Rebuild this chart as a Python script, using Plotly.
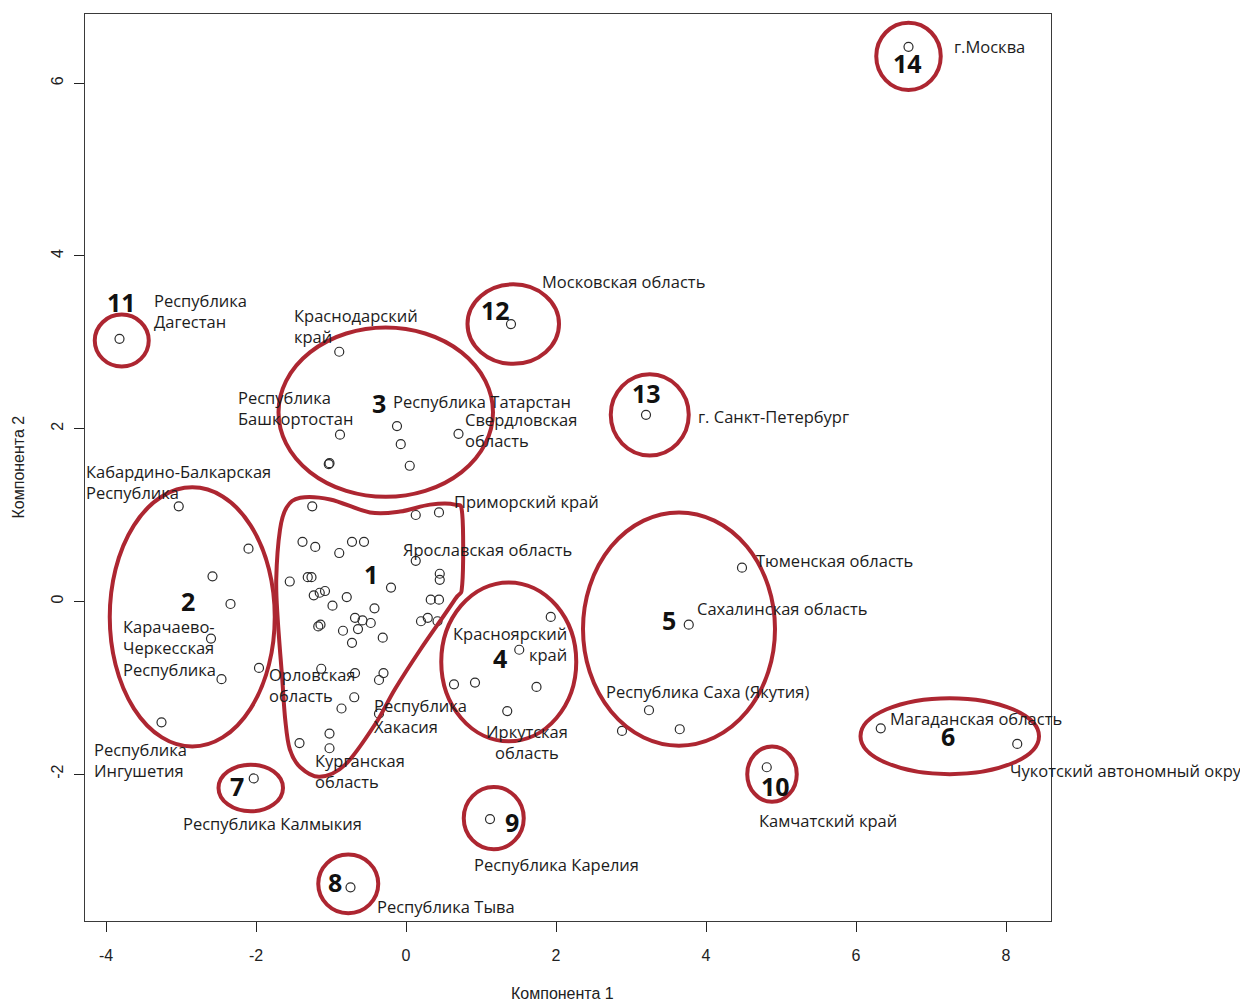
import plotly.graph_objects as go

# --- Regions with a text label: name (line breaks as drawn), component 1, component 2
region_names = [
    "г.Москва", "Московская область", "Республика\nДагестан", "г. Санкт-Петербург",
    "Краснодарский\nкрай", "Республика\nБашкортостан", "Республика Татарстан",
    "Свердловская\nобласть", "Кабардино-Балкарская\nРеспублика",
    "Карачаево-\nЧеркесская\nРеспублика", "Республика\nИнгушетия", "Орловская\nобласть",
    "Приморский край", "Ярославская область", "Республика\nХакасия", "Курганская\nобласть",
    "Красноярский\nкрай", "Иркутская\nобласть", "Тюменская область", "Сахалинская область",
    "Республика Саха (Якутия)", "Магаданская область", "Чукотский автономный округ",
    "Камчатский край", "Республика Калмыкия", "Республика Карелия", "Республика Тыва",
]
region_pc1 = [6.70, 1.40, -3.82, 3.20, -0.89, -0.88, -0.12, 0.70, -3.03, -2.60, -3.26, -1.96,
              0.44, 0.13, 0.64, -1.02, 1.51, 1.35, 4.48, 3.77, 3.24, 6.33, 8.15, 4.81,
              -2.03, 1.12, -0.74]
region_pc2 = [6.42, 3.21, 3.04, 2.16, 2.89, 1.93, 2.03, 1.94, 1.10, -0.43, -1.40, -0.77,
              1.03, 0.47, -0.96, -1.70, -0.56, -1.27, 0.39, -0.27, -1.26, -1.47, -1.65, -1.92,
              -2.05, -2.52, -3.31]

# --- Remaining regions (no label)
other_pc1 = [-1.03, -1.02, -0.07, 0.05,
             -2.10, -2.58, -2.34, -2.46,
             -1.25, 0.13, -1.38, -1.21, -0.72, -0.56, -0.89, -1.55, -1.31, -1.26, 0.45, 0.45,
             -0.20, -1.23, -1.15, -1.08, -0.79, -0.98, -0.42, 0.33, 0.44, -0.68, -0.58, -0.47,
             0.20, 0.29, 0.42, -1.17, -1.14, -0.84, -0.64, -0.31, -0.72, -1.13, -0.68, -0.30,
             -0.36, -0.69, -0.86, -0.36, -1.02, -1.42,
             1.93, 0.92, 1.74,
             2.88, 3.65]
other_pc2 = [1.59, 1.60, 1.82, 1.57,
             0.61, 0.29, -0.03, -0.90,
             1.10, 1.00, 0.69, 0.63, 0.69, 0.69, 0.56, 0.23, 0.28, 0.28, 0.32, 0.25,
             0.16, 0.07, 0.10, 0.12, 0.05, -0.05, -0.08, 0.02, 0.02, -0.19, -0.22, -0.25,
             -0.23, -0.19, -0.23, -0.29, -0.27, -0.34, -0.32, -0.42, -0.48, -0.78, -0.83, -0.83,
             -0.91, -1.11, -1.24, -1.30, -1.53, -1.64,
             -0.18, -0.94, -0.99,
             -1.50, -1.48]

x_ticks = [-4, -2, 0, 2, 4, 6, 8]
x_tick_text = ["-4", "-2", "0", "2", "4", "6", "8"]
y_ticks = [-2, 0, 2, 4, 6]
y_tick_text = ["-2", "0", "2", "4", "6"]
x_title = "Компонента 1"
y_title = "Компонента 2"

# Label placement around each point: (xanchor, xshift px, yshift px, align)
label_place = {
    "г.Москва": ("left", 44, 0, "left"),
    "Московская область": ("left", 30, 43, "left"),
    "Республика\nДагестан": ("left", 33, 28, "left"),
    "г. Санкт-Петербург": ("left", 51, -2, "left"),
    "Краснодарский\nкрай": ("left", -46, 26, "left"),
    "Республика\nБашкортостан": ("left", -103, 27, "left"),
    "Республика Татарстан": ("left", -5, 25, "left"),
    "Свердловская\nобласть": ("left", 5, 4, "left"),
    "Кабардино-Балкарская\nРеспублика": ("left", -94, 24, "left"),
    "Карачаево-\nЧеркесская\nРеспублика": ("left", -89, -9, "left"),
    "Республика\nИнгушетия": ("left", -69, -38, "left"),
    "Орловская\nобласть": ("left", 9, -17, "left"),
    "Приморский край": ("left", 14, 11, "left"),
    "Ярославская область": ("left", -14, 11, "left"),
    "Республика\nХакасия": ("left", -81, -32, "left"),
    "Курганская\nобласть": ("left", -16, -23, "left"),
    "Красноярский\nкрай": ("right", 49, 6, "right"),
    "Иркутская\nобласть": ("center", 20, -31, "center"),
    "Тюменская область": ("left", 13, 7, "left"),
    "Сахалинская область": ("left", 7, 16, "left"),
    "Республика Саха (Якутия)": ("left", -44, 19, "left"),
    "Магаданская область": ("left", 8, 10, "left"),
    "Чукотский автономный округ": ("left", -8, -27, "left"),
    "Камчатский край": ("left", -9, -53, "left"),
    "Республика Калмыкия": ("left", -72, -45, "left"),
    "Республика Карелия": ("left", -17, -45, "left"),
    "Республика Тыва": ("left", 25, -19, "left"),
}

# Cluster outlines: number, label position, ellipse centre and radii (data units)
cluster_num = ["14", "11", "12", "13", "3", "2", "4", "5", "6", "7", "8", "9", "10"]
cluster_lab_x = [6.69, -3.80, 1.19, 3.20, -0.36, -2.91, 1.25, 3.51, 7.23, -2.25, -0.95, 1.41, 4.92]
cluster_lab_y = [6.23, 3.47, 3.37, 2.41, 2.30, 0.00, -0.65, -0.21, -1.56, -2.14, -3.25, -2.55, -2.14]
ell_cx = [6.70, -3.79, 1.43, 3.25, -0.27, -2.85, 1.37, 3.64, 7.25, -2.07, -0.77, 1.17, 4.88]
ell_cy = [6.31, 3.02, 3.21, 2.16, 2.19, -0.18, -0.70, -0.32, -1.56, -2.16, -3.27, -2.51, -2.00]
ell_rx = [0.43, 0.36, 0.61, 0.52, 1.43, 1.10, 0.90, 1.28, 1.19, 0.43, 0.40, 0.40, 0.33]
ell_ry = [0.39, 0.30, 0.46, 0.47, 0.98, 1.50, 0.92, 1.35, 0.44, 0.27, 0.34, 0.36, 0.32]

# Cluster 1: free-hand outline nodes
group1_outline = [
    (-1.59, 1.09), (-1.41, 1.20), (-1.01, 1.18), (-0.48, 1.03), (-0.08, 1.04), (0.32, 1.12),
    (0.65, 1.12), (0.75, 1.01), (0.75, 0.20), (0.65, 0.02), (0.19, -0.56), (-0.15, -1.02),
    (-0.41, -1.42), (-0.81, -1.89), (-1.15, -2.03), (-1.41, -1.92), (-1.55, -1.71),
    (-1.61, -1.37), (-1.65, -0.90), (-1.71, -0.21), (-1.73, 0.26), (-1.68, 0.83),
]
group1_label = ("1", -0.47, 0.32)

RED = "#ad2631"
TEXT_FONT = "Open Sans"
AXIS_FONT = "Liberation Sans Narrow, Liberation Sans"


def closed_spline_path(nodes):
    """Closed Catmull-Rom curve written as cubic Bezier SVG segments."""
    n = len(nodes)
    d = "M {:.4f},{:.4f}".format(*nodes[0])
    for i in range(n):
        p0, p1 = nodes[i - 1], nodes[i]
        p2, p3 = nodes[(i + 1) % n], nodes[(i + 2) % n]
        c1 = (p1[0] + (p2[0] - p0[0]) / 6, p1[1] + (p2[1] - p0[1]) / 6)
        c2 = (p2[0] - (p3[0] - p1[0]) / 6, p2[1] - (p3[1] - p1[1]) / 6)
        d += " C {:.4f},{:.4f} {:.4f},{:.4f} {:.4f},{:.4f}".format(*c1, *c2, *p2)
    return d + " Z"


fig = go.Figure()
fig.add_trace(go.Scatter(
    x=region_pc1 + other_pc1,
    y=region_pc2 + other_pc2,
    mode="markers",
    marker=dict(symbol="circle-open", size=9, color="#2b2b2b", line=dict(width=1.2)),
    hoverinfo="skip",
    showlegend=False,
))

annotations = []
for name, x, y in zip(region_names, region_pc1, region_pc2):
    xa, dx, dy, al = label_place[name]
    annotations.append(dict(
        x=x, y=y, xref="x", yref="y", text=name.replace("\n", "<br>"),
        showarrow=False, xanchor=xa, yanchor="middle", xshift=dx, yshift=dy, align=al,
        font=dict(family=TEXT_FONT, size=16.5, color="#1c1c1c"), borderpad=0,
    ))

shapes = []
for i, num in enumerate(cluster_num):
    cx, cy, rx, ry = ell_cx[i], ell_cy[i], ell_rx[i], ell_ry[i]
    shapes.append(dict(type="circle", xref="x", yref="y", x0=cx - rx, x1=cx + rx,
                       y0=cy - ry, y1=cy + ry, line=dict(color=RED, width=4), layer="above"))
    annotations.append(dict(
        x=cluster_lab_x[i], y=cluster_lab_y[i], xref="x", yref="y", text="<b>%s</b>" % num,
        showarrow=False, font=dict(family=TEXT_FONT, size=25, color="#111111"),
    ))

shapes.append(dict(type="path", xref="x", yref="y", path=closed_spline_path(group1_outline),
                   line=dict(color=RED, width=4), layer="above"))
annotations.append(dict(
    x=group1_label[1], y=group1_label[2], xref="x", yref="y", text="<b>%s</b>" % group1_label[0],
    showarrow=False, font=dict(family=TEXT_FONT, size=25, color="#111111"),
))

# Axis titles
annotations.append(dict(x=0.5, y=0, xref="paper", yref="paper", text=x_title, showarrow=False,
                        yanchor="middle", yshift=-72, xshift=-6,
                        font=dict(family=AXIS_FONT, size=16, color="#222")))
annotations.append(dict(x=0, y=0.5, xref="paper", yref="paper", text=y_title, showarrow=False,
                        xanchor="center", xshift=-67, textangle=-90,
                        font=dict(family=AXIS_FONT, size=16, color="#222")))

axis_common = dict(
    showgrid=False, zeroline=False, showline=True, mirror=True, linecolor="#3a3a3a", linewidth=1.3,
    ticks="outside", ticklen=10, tickcolor="#222", tickwidth=1.2,
    tickfont=dict(family=AXIS_FONT, size=16, color="#222"),
)

fig.update_layout(
    width=1240, height=1001,
    margin=dict(l=85, r=189, t=14, b=80),
    paper_bgcolor="white", plot_bgcolor="white",
    xaxis=dict(range=[-4.28, 8.60], tickvals=x_ticks, ticktext=x_tick_text,
               ticklabelstandoff=10, **axis_common),
    yaxis=dict(range=[-3.70, 6.80], tickvals=y_ticks, ticktext=y_tick_text, tickangle=-90,
               ticklabelstandoff=4, **axis_common),
    shapes=shapes,
    annotations=annotations,
)

fig.write_html("out.html")
